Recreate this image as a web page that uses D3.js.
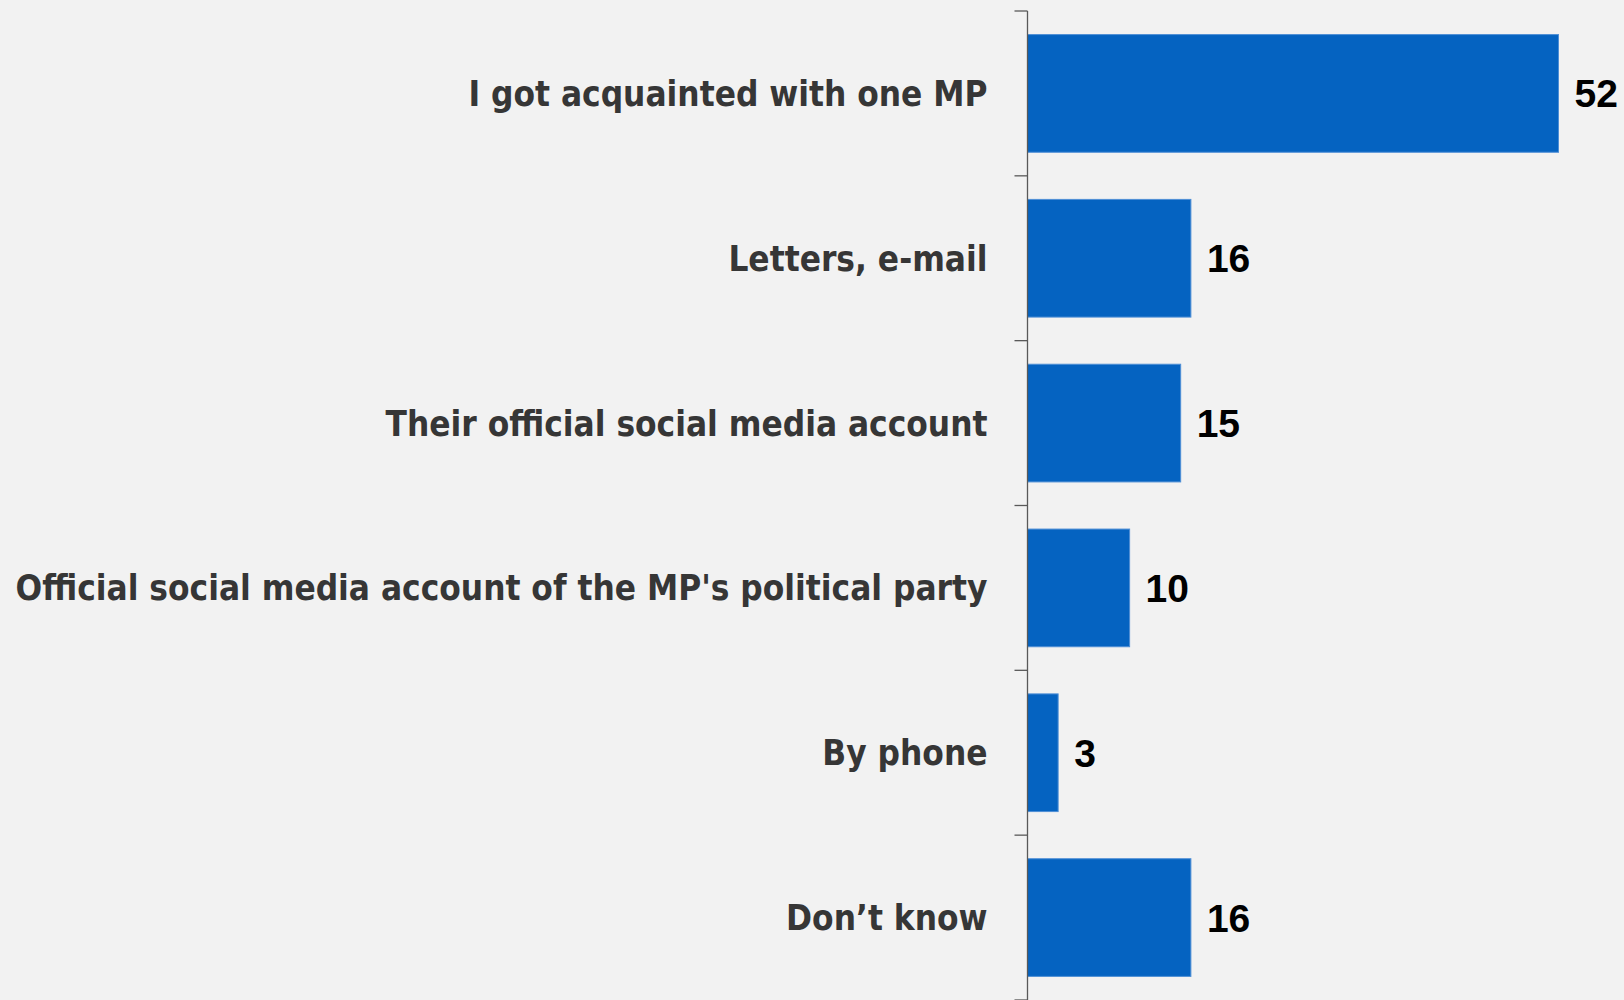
<!DOCTYPE html>
<html><head><meta charset="utf-8">
<script src="https://cdn.jsdelivr.net/npm/d3@7"></script>
<style>
html,body{margin:0;padding:0;background:#f2f2f2;}
svg{display:block;}
</style></head>
<body>
<svg id="chart" width="1624" height="1000"></svg>
<script>
const categories = [
  "I got acquainted with one MP",
  "Letters, e-mail",
  "Their official social media account",
  "Official social media account of the MP's political party",
  "By phone",
  "Don\u2019t know"
];
const values = [52, 16, 15, 10, 3, 16];

const W = 1624, H = 1000;
const axisX = 1027.5;
const svg = d3.select("#chart");
svg.append("rect").attr("width", W).attr("height", H).attr("fill", "#f2f2f2");

const x = d3.scaleLinear().domain([0, 52]).range([axisX, 1558.5]);
const y = d3.scaleBand().domain(categories).range([11, 11 + 164.83 * 6])
  .paddingInner(0.286).paddingOuter(0.143);

const g = svg.append("g");

g.selectAll("rect.bar").data(values).join("rect")
  .attr("class", "bar")
  .attr("x", x(0))
  .attr("y", (d, i) => y(categories[i]))
  .attr("width", d => x(d) - x(0))
  .attr("height", y.bandwidth())
  .attr("fill", "#0563c1")
  .attr("stroke", "#4f8fd6")
  .attr("stroke-width", 1);

const boundaries = d3.range(categories.length + 1).map(i => 11 + i * y.step());
g.append("line").attr("x1", axisX).attr("x2", axisX).attr("y1", 11).attr("y2", H)
  .attr("stroke", "#595959").attr("stroke-width", 1.3);
g.selectAll("line.tick").data(boundaries).join("line")
  .attr("class", "tick")
  .attr("x1", axisX - 13).attr("x2", axisX)
  .attr("y1", d => d).attr("y2", d => d)
  .attr("stroke", "#595959").attr("stroke-width", 1.3);

const fam = "'Liberation Sans Narrow','DejaVu Sans Condensed','Liberation Sans',sans-serif";
const labels = g.selectAll("text.cat").data(categories).join("text")
  .attr("class", "cat")
  .attr("x", axisX - 40)
  .attr("y", d => y(d) + y.bandwidth() / 2)
  .attr("text-anchor", "end")
  .attr("dy", "0.36em")
  .attr("fill", "#363636")
  .attr("font-family", fam)
  .attr("font-weight", "bold")
  .attr("font-size", 40)
  .text(d => d);
let maxW = 0;
labels.each(function(){ maxW = Math.max(maxW, this.getComputedTextLength()); });
labels.attr("font-size", 40 * 972 / maxW);

g.selectAll("text.val").data(values).join("text")
  .attr("class", "val")
  .attr("x", d => x(d) + 16)
  .attr("y", (d, i) => y(categories[i]) + y.bandwidth() / 2)
  .attr("dy", "0.36em")
  .attr("fill", "#000")
  .attr("font-family", "'Liberation Sans',Arial,sans-serif")
  .attr("font-weight", "bold")
  .attr("font-size", 39)
  .text(d => d);
</script>
</body></html>
